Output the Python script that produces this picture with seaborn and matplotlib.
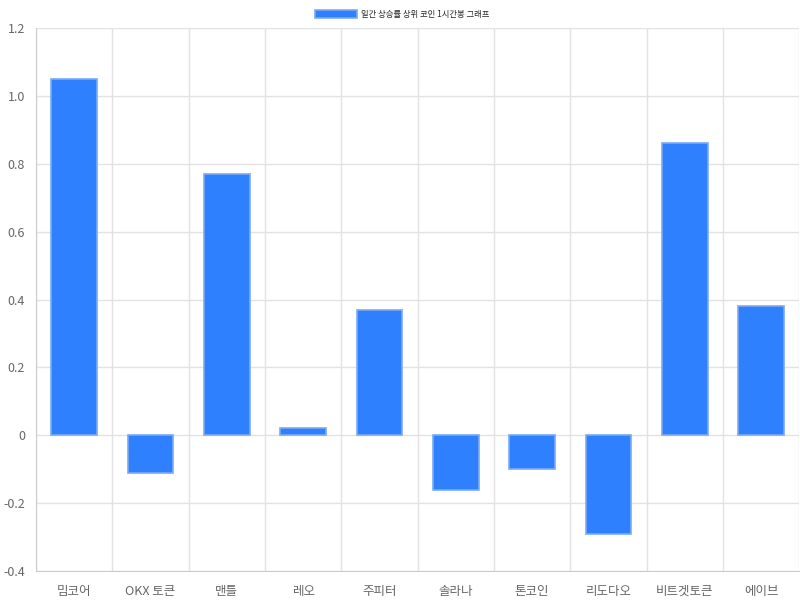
import matplotlib
matplotlib.use("Agg")
import matplotlib.pyplot as plt
import numpy as np
import pandas as pd
import seaborn as sns

coins = ["밈코어", "OKX 토큰", "맨틀", "레오", "주피터", "솔라나", "톤코인", "리도다오", "비트겟토큰", "에이브"]
changes = [1.05, -0.11, 0.77, 0.02, 0.37, -0.16, -0.10, -0.29, 0.86, 0.38]
series_name = "일간 상승률 상위 코인 1시간봉 그래프"
yticks = [-0.4, -0.2, 0, 0.2, 0.4, 0.6, 0.8, 1.0, 1.2]
ytick_labels = ["-0.4", "-0.2", "0", "0.2", "0.4", "0.6", "0.8", "1.0", "1.2"]

df = pd.DataFrame({"coin": coins, "change": changes})

sns.set_style("white")
plt.rcParams["font.family"] = ["Noto Sans CJK KR", "DejaVu Sans"]

fig = plt.figure(figsize=(8, 6), dpi=100)
ax = fig.add_axes([0.045, 0.0483, 0.954, 0.905])

sns.barplot(data=df, x="coin", y="change", ax=ax, width=0.6,
            color="#2f80ff", saturation=1, edgecolor="#7aaaf5", linewidth=1.2,
            label=series_name, zorder=3)

ax.set_ylim(-0.4, 1.2)
ax.set_xlim(-0.5, len(coins) - 0.5)
ax.set_yticks(yticks)
ax.set_yticklabels(ytick_labels)
ax.set_xticks(np.arange(-0.5, len(coins)), minor=True)
ax.tick_params(axis="x", which="major", length=0, pad=10, labelsize=9, labelcolor="#666666")
ax.tick_params(axis="x", which="minor", length=7, color="#dddddd", width=1)
ax.tick_params(axis="y", length=6, color="#dddddd", labelsize=9, labelcolor="#666666", pad=2)
ax.grid(axis="y", color="#e2e2e2", linewidth=1, zorder=0)
ax.grid(axis="x", which="minor", color="#e2e2e2", linewidth=1, zorder=0)
ax.set_xlabel("")
ax.set_ylabel("")
for side in ["top", "right"]:
    ax.spines[side].set_visible(False)
for side in ["left", "bottom"]:
    ax.spines[side].set_color("#cccccc")

ax.legend(loc="lower center", bbox_to_anchor=(0.48, 1.006), bbox_transform=ax.transAxes,
          frameon=False, fontsize=6, handlelength=5.0, handleheight=1.0,
          borderaxespad=0.3, handletextpad=0.5)

fig.savefig("out.png", dpi=100)
